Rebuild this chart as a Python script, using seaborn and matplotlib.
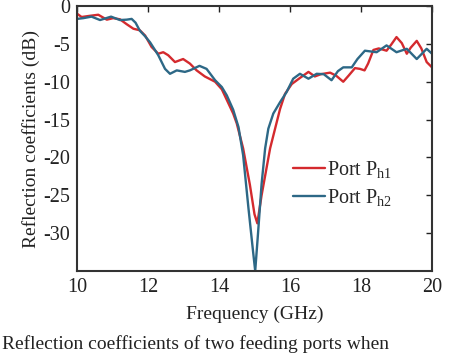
import numpy as np
import pandas as pd
import seaborn as sns
import matplotlib
matplotlib.use("Agg")
import matplotlib.pyplot as plt

# Values (frequency in GHz, reflection in dB)
freq_h1 = [10.0, 10.13, 10.35, 10.6, 10.84, 11.02, 11.21, 11.4, 11.59, 11.77,
           11.92, 12.1, 12.29, 12.43, 12.57, 12.76, 12.99, 13.18, 13.37, 13.6,
           13.89, 14.08, 14.25, 14.4, 14.5, 14.68, 14.87, 15.0, 15.08, 15.2,
           15.44, 15.58, 15.72, 15.86, 16.05, 16.28, 16.52, 16.7, 16.87, 17.0,
           17.13, 17.3, 17.5, 17.65, 17.83, 17.97, 18.1, 18.2, 18.35, 18.5,
           18.72, 18.85, 19.0, 19.15, 19.29, 19.4, 19.57, 19.7, 19.85, 20.0]
s_h1 = [-1.0, -1.45, -1.3, -1.15, -1.8, -1.6, -1.75, -2.4, -3.0, -3.2,
        -3.9, -5.4, -6.3, -6.1, -6.5, -7.4, -7.0, -7.6, -8.5, -9.3,
        -10.0, -11.0, -12.7, -14.2, -15.5, -18.8, -23.6, -27.5, -28.7, -25.0,
        -18.8, -16.2, -13.6, -11.6, -10.3, -9.5, -8.7, -9.3, -9.0, -8.9,
        -8.8, -9.2, -10.0, -9.2, -8.2, -8.3, -8.5, -7.6, -5.8, -5.6,
        -5.9, -5.1, -4.1, -4.9, -6.3, -5.5, -4.6, -5.6, -7.4, -8.1]

freq_h2 = [10.0, 10.18, 10.41, 10.65, 10.96, 11.21, 11.4, 11.54, 11.65, 11.77,
           11.92, 12.06, 12.29, 12.48, 12.62, 12.81, 13.04, 13.18, 13.45, 13.65,
           13.89, 14.08, 14.22, 14.4, 14.55, 14.68, 14.83, 14.95, 15.02, 15.1,
           15.2, 15.3, 15.39, 15.53, 15.72, 15.9, 16.09, 16.28, 16.52, 16.75,
           16.95, 17.17, 17.35, 17.5, 17.74, 17.9, 18.11, 18.44, 18.72, 19.0,
           19.29, 19.57, 19.85, 20.0]
s_h2 = [-1.7, -1.6, -1.4, -1.85, -1.4, -1.85, -1.8, -1.7, -2.2, -3.25,
        -4.0, -4.8, -6.5, -8.3, -8.95, -8.5, -8.7, -8.5, -7.9, -8.3,
        -9.8, -10.7, -11.8, -13.7, -16.0, -19.7, -26.7, -32.0, -35.0, -30.0,
        -23.5, -18.8, -16.2, -14.2, -12.7, -11.4, -9.6, -8.95, -9.6, -8.95,
        -9.0, -9.8, -8.6, -8.1, -8.1, -7.0, -5.9, -6.1, -5.2, -6.1,
        -5.65, -7.0, -5.65, -6.3]

labels = ["Port P$_{\\mathregular{h1}}$", "Port P$_{\\mathregular{h2}}$"]
colors = ["#d42a2e", "#2d6886"]

df = pd.concat([
    pd.DataFrame({"freq": freq_h1, "s": s_h1, "port": labels[0]}),
    pd.DataFrame({"freq": freq_h2, "s": s_h2, "port": labels[1]}),
])

sns.set_theme(style="white")
plt.rcParams["font.family"] = ["Liberation Serif", "DejaVu Serif"]
plt.rcParams["mathtext.fontset"] = "custom"
plt.rcParams["mathtext.rm"] = "Liberation Serif"
plt.rcParams["mathtext.it"] = "Liberation Serif"

fig = plt.figure(figsize=(4.74, 3.55), dpi=100)
ax = fig.add_axes([0.1624, 0.2366, 0.749, 0.7464])

sns.lineplot(data=df, x="freq", y="s", hue="port", palette=colors,
             linewidth=1.7, sort=False, ax=ax)

ax.set_xlim(10, 20)
ax.set_ylim(-35, 0)
ax.set_xticks([10, 12, 14, 16, 18, 20])
ax.set_yticks([0, -5, -10, -15, -20, -25, -30])
ax.set_yticklabels(["0", "-5", "-10", "-15", "-20", "-25", "-30"])
ax.set_xlabel("Frequency (GHz)", fontsize=14, color="#222222", labelpad=6)
ax.set_ylabel("Reflection coefficients (dB)", fontsize=14, color="#222222", labelpad=2)
ax.tick_params(direction="in", top=True, right=True, length=4, width=1,
               labelsize=14.5, colors="#222222", pad=5)
for sp in ax.spines.values():
    sp.set_color("#333333")
    sp.set_linewidth(1.5)

ax.legend(frameon=False, loc="center left", bbox_to_anchor=(0.585, 0.33),
          fontsize=14.5, handlelength=1.6, handletextpad=0.1,
          labelspacing=0.35, borderaxespad=0)

fig.text(0.004, 0.005, "Reflection coefficients of two feeding ports when",
         fontsize=14, ha="left", va="bottom", color="#222222")

fig.savefig("out.png", dpi=100)
